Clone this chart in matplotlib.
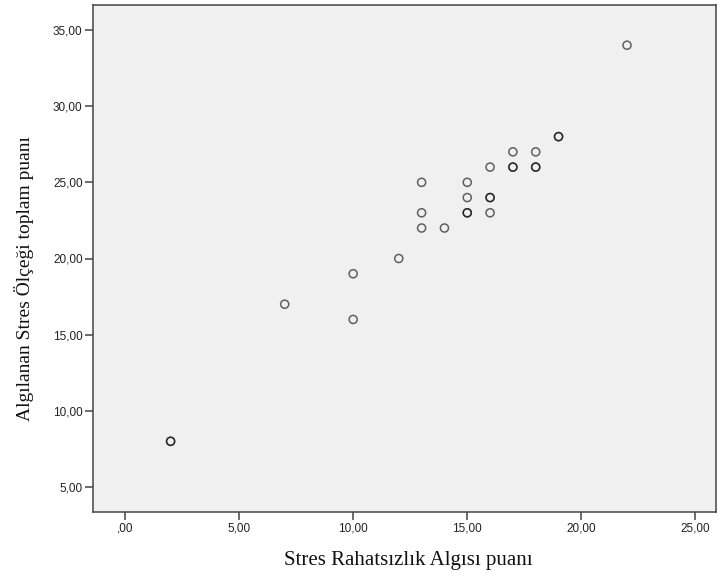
import matplotlib
matplotlib.use("Agg")
import matplotlib.pyplot as plt
from matplotlib.ticker import FuncFormatter

# Data (duplicates represent overlapping cases, drawn darker)
x_vals = [2, 2, 7, 10, 10, 12, 13, 13, 13, 14, 15, 15, 15, 15, 16, 16, 16, 16, 17, 17, 17, 18, 18, 18, 19, 19, 22]
y_vals = [8, 8, 17, 19, 16, 20, 25, 23, 22, 22, 25, 24, 23, 23, 26, 24, 24, 23, 27, 26, 26, 27, 26, 26, 28, 28, 34]
x_ticks = [0, 5, 10, 15, 20, 25]
y_ticks = [5, 10, 15, 20, 25, 30, 35]
x_label = "Stres Rahatsızlık Algısı puanı"
y_label = "Algılanan Stres Ölçeği toplam puanı"

def fmt(v, pos):
    s = "%.2f" % v
    s = s.replace(".", ",")
    if s.startswith("0,"):
        s = s[1:]
    return s

fig = plt.figure(figsize=(7.18, 5.77), dpi=100)
W, H = 718, 577
left, right, top, bottom = 93, 716, 5, 512
ax = fig.add_axes([left / W, 1 - bottom / H, (right - left) / W, (bottom - top) / H])
ax.set_facecolor("#F0F0F0")

ax.scatter(x_vals, y_vals, s=34, facecolors="none", edgecolors=(0, 0, 0, 0.6), linewidths=1.1, zorder=3)

ax.set_xlim(-1.4, 25.9)
ax.set_ylim(3.36, 36.64)
ax.set_xticks(x_ticks)
ax.set_yticks(y_ticks)
ax.xaxis.set_major_formatter(FuncFormatter(fmt))
ax.yaxis.set_major_formatter(FuncFormatter(fmt))

for sp in ax.spines.values():
    sp.set_color("#444444")
    sp.set_linewidth(1.1)
ax.tick_params(axis="both", direction="out", length=5.5, width=1.1, color="#444444",
               labelsize=8.5, labelcolor="#222222", pad=2)
for lbl in ax.get_xticklabels() + ax.get_yticklabels():
    lbl.set_family(["Liberation Sans", "DejaVu Sans"])

fig.text(408 / W, 1 - 561 / H, x_label, ha="center", va="center",
         family=["Liberation Serif", "DejaVu Serif"], fontsize=15, color="#111111")
fig.text(24 / W, 1 - 279 / H, y_label, ha="center", va="center", rotation=90,
         family=["Liberation Serif", "DejaVu Serif"], fontsize=14, color="#111111")

fig.savefig("out.png", dpi=100)
